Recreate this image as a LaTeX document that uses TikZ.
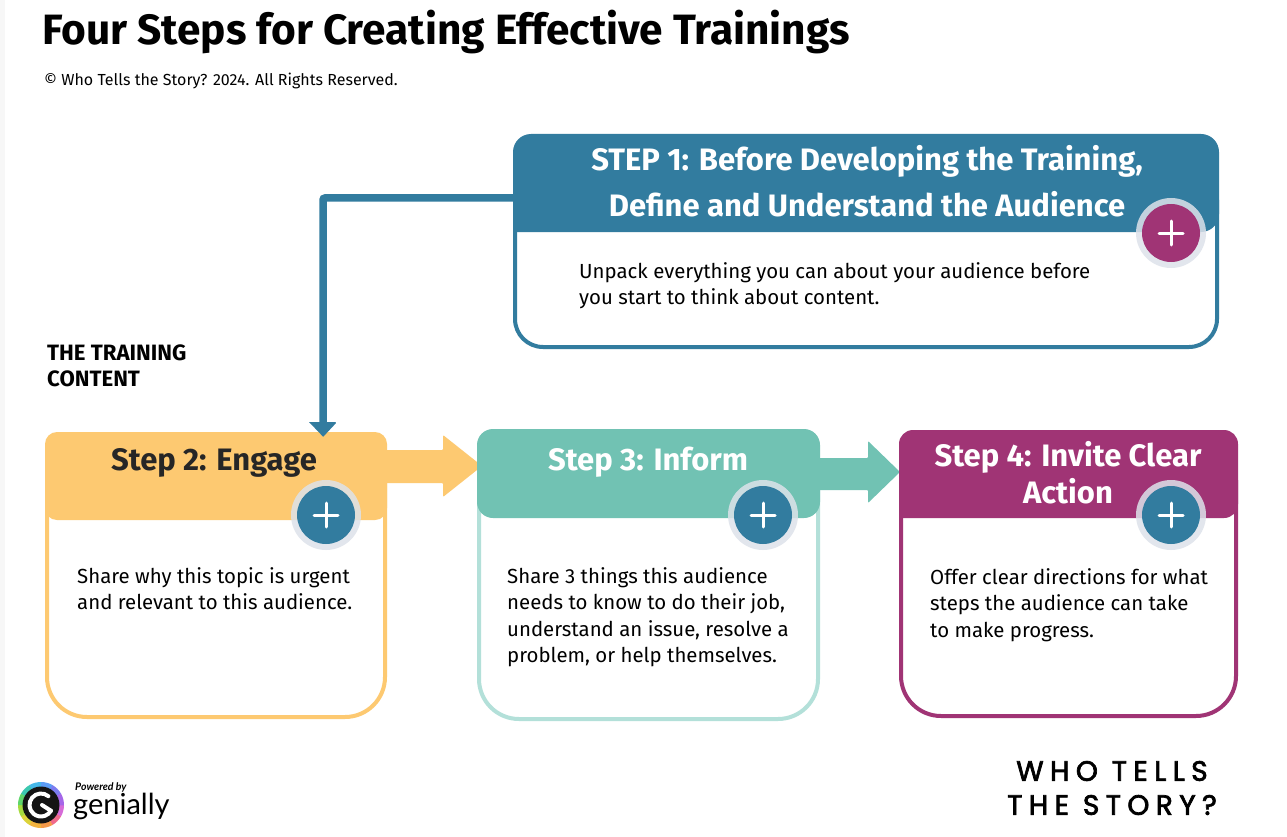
\documentclass[tikz,border=0pt]{standalone}
\usepackage{fontspec}
\setmainfont{Fira Sans}
\newfontfamily\wts[LetterSpace=23,FakeBold=2.5]{Poppins}
\newfontfamily\gen{Lato}
\usetikzlibrary{calc}
\definecolor{cblue}{HTML}{327C9F}
\definecolor{cyel}{HTML}{FDC971}
\definecolor{cteal}{HTML}{71C2B3}
\definecolor{ctealb}{HTML}{B3E0D9}
\definecolor{cmag}{HTML}{A03475}
\definecolor{chalo}{HTML}{DDE2EA}
\newcommand{\fs}[1]{\fontsize{#1}{#1}\selectfont}
\tikzset{
  x=1pt,y=-1pt,
  headtext/.style={text=white,font=\fs{31}\bfseries,align=center,inner sep=0},
  bodytext/.style={text=black,font=\fontsize{20.4}{26.6}\selectfont,align=left,anchor=north west,inner sep=0},
  card/.style={line width=4pt,fill=white},
  halo/.style={circle,fill=chalo,minimum size=70,inner sep=0},
  plusbtn/.style={circle,minimum size=58,inner sep=0},
  plusbar/.style={draw=white,line width=3pt,line cap=round},
}
\newcommand{\plusmark}[1]{\draw[plusbar] ($(#1)+(-12,0)$) -- ($(#1)+(12,0)$); \draw[plusbar] ($(#1)+(0,-12)$) -- ($(#1)+(0,12)$);}
\begin{document}
\begin{tikzpicture}
\useasboundingbox (0,0) rectangle (1287,837);
\fill[white] (0,0) rectangle (1287,837);
\fill[black!3] (0,0) rectangle (5,837);
% title
\node[anchor=west,inner sep=0,font=\fs{42.4}\bfseries] (title) at (42,32) {Four Steps for Creating Effective Trainings};
\node[anchor=west,inner sep=0,font=\fs{16}] (copy) at (44,81) {© Who Tells the Story? 2024. All Rights Reserved.};
\node[anchor=north west,inner sep=0,font=\fontsize{22.2}{26}\selectfont\bfseries,align=left] (tc) at (47,345) {THE TRAINING\\CONTENT};
% cards
\draw[card,draw=cblue,rounded corners=28] (515,200) -- (515,347) -- (1217,347) -- (1217,200);
\draw[card,draw=cyel,rounded corners=40] (47,480) -- (47,717) -- (385,717) -- (385,480);
\draw[card,draw=ctealb,rounded corners=40] (479,480) -- (479,719) -- (818,719) -- (818,480);
\draw[card,draw=cmag,rounded corners=40] (901,480) -- (901,716) -- (1236,716) -- (1236,480);
% block arrows
\fill[cyel,rounded corners=1] (380,450) -- (443,450) -- (443,435) -- (482,466) -- (443,497) -- (443,483) -- (380,483) -- cycle;
\fill[cteal,rounded corners=1] (815,458) -- (868,458) -- (868,441) -- (900,472) -- (868,503) -- (868,490) -- (815,490) -- cycle;
% headers
\fill[cblue,rounded corners=18] (513,170) -- (513,134) -- (1219,134) -- (1219,232) -- (1150,232) [rounded corners=1] -- (513,232) -- cycle;
\fill[cyel,rounded corners=12] (45,480) -- (45,432) -- (387,432) -- (387,520) -- (200,520) -- (45,520) -- cycle;
\fill[cteal,rounded corners=16] (477,480) -- (477,429) -- (820,429) -- (820,518) -- (477,518) -- cycle;
\fill[cmag,rounded corners=14] (899,480) -- (899,430) -- (1238,430) -- (1238,518) -- (1060,518) [rounded corners=3] -- (899,518) -- cycle;
% elbow connector
\node[minimum size=0,inner sep=0] (h1) at (513,198) {};
\node[minimum size=0,inner sep=0] (tip) at (323,437) {};
\draw[cblue,line width=7.5pt,rounded corners=2] (h1) -| ($(tip)+(0,-12)$);
\fill[cblue,rounded corners=1.5] ($(tip)+(-14,-15)$) -- ($(tip)+(14,-15)$) -- (tip) -- cycle;
% header text
\node[headtext] (t1a) at (867,161) {STEP 1: Before Developing the Training,};
\node[headtext] (t1b) at (867,204) {Define and Understand the Audience};
\node[headtext,text=black!85] (t2) at (214,463) {Step 2: Engage};
\node[headtext] (t3) at (648,462) {Step 3: Inform};
\node[headtext] (t4a) at (1068,457) {Step 4: Invite Clear};
\node[headtext] (t4b) at (1068,491) {Action};
% body text
\node[bodytext] (b1) at (579,262) {Unpack everything you can about your audience before\\you start to think about content.};
\node[bodytext] (b2) at (77,567) {Share why this topic is urgent\\and relevant to this audience.};
\node[bodytext] (b3) at (507,567) {Share 3 things this audience\\needs to know to do their job,\\understand an issue, resolve a\\problem, or help themselves.};
\node[bodytext] (b4) at (930,568) {Offer clear directions for what\\steps the audience can take\\to make progress.};
% plus buttons
\foreach \nm/\cx/\cy/\col in {p1/1171/233/cmag,p2/326/515/cblue,p3/763/515/cblue,p4/1171/515/cblue}{
  \node[halo,fill opacity=.85] at (\cx,\cy) {};
  \node[plusbtn,fill=\col] (\nm) at (\cx,\cy) {};
  \plusmark{\nm}
}
% brand
\node[inner sep=0,font=\fontsize{28}{34}\selectfont\wts,align=center] (brand) at (1112,788) {WHO TELLS\\THE STORY?};
% logo
\coordinate (lg) at (41,805);
\definecolor{r1}{HTML}{D66BD8}\definecolor{r2}{HTML}{F06A8C}\definecolor{r3}{HTML}{F59A4A}\definecolor{r4}{HTML}{F2B33E}
\definecolor{r5}{HTML}{DCD33A}\definecolor{r6}{HTML}{A5DB3E}\definecolor{r7}{HTML}{5FD66B}\definecolor{r8}{HTML}{3CC8B0}
\definecolor{r9}{HTML}{45B8E8}\definecolor{r10}{HTML}{5B9CF5}\definecolor{r11}{HTML}{7C7CF0}\definecolor{r12}{HTML}{A566E8}
\foreach \a/\c in {0/r1,30/r2,60/r3,90/r4,120/r5,150/r6,180/r7,210/r8,240/r9,270/r10,300/r11,330/r12}{
  \fill[\c] (lg) -- ($(lg)+({\a}:23)$) arc[start angle=\a,end angle=\a+31,radius=23] -- cycle;
}
\fill[black!92] (lg) circle[radius=18.5];
\draw[white,line width=4pt,line cap=round] ($(lg)+(-50:11.5)$) arc[start angle=-50,end angle=-330,radius=11.5];
\draw[white,line width=4pt,line cap=round] ($(lg)+(30:11.5)$) -- ($(lg)+(1,0)$);
\node[anchor=west,inner sep=0,font=\fs{10.5}\gen\bfseries\itshape] (pow) at (75,787) {Powered by};
\node[anchor=west,inner sep=0,font=\fs{29}\gen] (gen) at (73,806) {genially};
\end{tikzpicture}
\end{document}
